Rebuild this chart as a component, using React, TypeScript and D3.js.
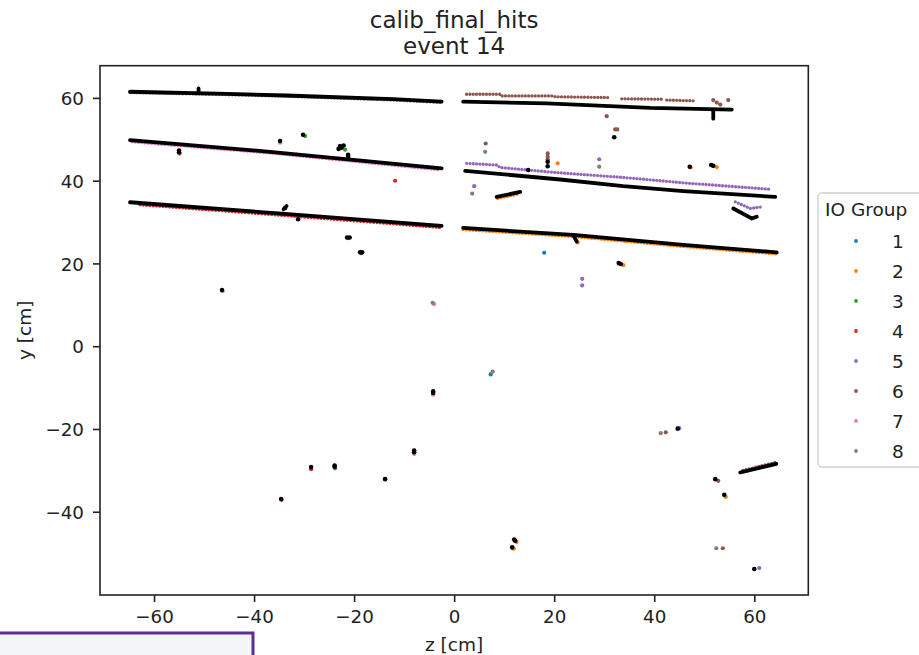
import React from "react";
import * as d3 from "d3";

const WIDTH = 919;
const HEIGHT = 655;

const GROUPS = [1, 2, 3, 4, 5, 6, 7, 8];
const GROUP_COLORS = ["#1f77b4", "#ff7f0e", "#2ca02c", "#d62728", "#9467bd", "#8c564b", "#e377c2", "#7f7f7f"];
const X_TICKS = [-60, -40, -20, 0, 20, 40, 60];
const Y_TICKS = [-40, -20, 0, 20, 40, 60];
const X_DOMAIN: [number, number] = [-70.9, 70.7];
const Y_DOMAIN: [number, number] = [-60.0, 67.9];

const TITLE_LINES = ["calib_final_hits", "event 14"];
const X_LABEL = "z [cm]";
const Y_LABEL = "y [cm]";
const LEGEND_TITLE = "IO Group";

// colored hit tracks: group + vertices [z, y]
const colorTracks: { group: number; pts: [number, number][] }[] = [
  { group: 8, pts: [[-64.9, 61.4], [-45.6, 60.9], [-33.6, 60.5], [-12.3, 59.6], [-2.6, 59.0]] },
  { group: 7, pts: [[-64.5, 49.5], [-36.9, 46.8], [-2.8, 42.7]] },
  { group: 4, pts: [[-62.9, 34.3], [-33.9, 31.7], [-2.8, 28.8]] },
  { group: 6, pts: [[2.4, 61.0], [9.1, 61.0], [9.4, 60.6], [19.7, 60.6], [20.1, 60.4], [31.1, 60.2]] },
  { group: 6, pts: [[33.4, 59.9], [41.7, 59.8]] },
  { group: 6, pts: [[42.4, 59.6], [48.1, 59.4]] },
  { group: 5, pts: [[2.4, 44.3], [8.4, 43.9], [9.1, 43.3], [21.1, 42.0], [33.7, 40.9], [45.7, 39.6], [63.4, 38.0]] },
  { group: 5, pts: [[56.1, 35.0], [59.1, 33.4], [61.4, 33.8]] },
  { group: 2, pts: [[1.7, 28.3], [23.7, 26.6], [45.7, 24.2], [64.4, 22.4]] },
  { group: 2, pts: [[8.6, 35.8], [13.1, 37.0]] },
  { group: 6, pts: [[57.6, -29.9], [64.3, -27.9]] },
];

// isolated colored hits: [z, y, group]
const colorHits: [number, number, number][] = [
  [6.2, 49.1, 6], [6.1, 47.1, 8], [18.6, 46.7, 6], [18.6, 45.9, 6], [18.6, 45.3, 6],
  [20.6, 44.3, 2], [28.9, 45.3, 5], [28.9, 43.5, 8], [30.4, 55.7, 6], [32.1, 52.5, 6],
  [32.5, 52.5, 6], [47.2, 43.3, 2], [52.4, 43.4, 2], [3.9, 38.8, 5], [3.5, 37.0, 8],
  [17.9, 22.7, 1], [33.7, 19.7, 2], [25.5, 16.4, 5], [25.5, 14.8, 5], [24.6, 25.2, 2],
  [51.7, 59.6, 6], [52.4, 59.0, 6], [53.1, 58.5, 6], [54.7, 59.6, 6],
  [7.2, -6.7, 1], [7.6, -6.0, 8], [41.2, -20.9, 8], [42.2, -20.7, 6], [44.9, -19.7, 5],
  [52.7, -32.4, 6], [54.2, -36.3, 2], [52.3, -48.7, 8], [53.6, -48.7, 6], [60.9, -53.5, 5],
  [12.4, -47.2, 2], [11.8, -48.8, 2],
  [-34.9, 49.3, 7], [-29.9, 50.9, 3], [-21.9, 47.6, 3], [-55.0, 46.7, 4], [-11.9, 40.1, 4],
  [-21.3, 26.2, 3], [-18.7, 22.6, 3], [-46.4, 13.4, 7], [-4.1, 10.3, 7], [-4.4, 10.6, 8],
  [-4.3, -11.6, 7], [-34.6, -37.0, 4], [-28.7, -29.6, 4], [-23.9, -29.4, 3], [-8.1, -25.9, 7],
  [-13.9, -32.0, 8],
];

// black reconstructed tracks
const blackTracks: [number, number][][] = [
  [[-64.9, 61.6], [-45.6, 61.1], [-33.6, 60.7], [-12.3, 59.8], [-2.6, 59.2]],
  [[-64.9, 49.9], [-36.9, 47.1], [-2.6, 43.1]],
  [[-64.9, 34.9], [-33.9, 32.1], [-2.6, 29.2]],
  [[1.7, 59.2], [18.4, 58.8], [39.1, 57.7], [55.4, 57.3]],
  [[2.1, 42.5], [21.1, 40.4], [33.7, 38.8], [45.7, 37.6], [64.1, 36.2]],
  [[55.7, 33.4], [59.4, 31.0], [60.4, 31.4]],
  [[1.7, 28.7], [23.7, 27.0], [45.7, 24.6], [64.4, 22.8]],
  [[8.4, 36.2], [13.1, 37.4]],
  [[57.1, -30.4], [64.3, -28.3]],
  [[-51.2, 61.5], [-51.2, 62.4]],
  [[-34.2, 33.2], [-33.6, 34.0]],
  [[23.7, 27.0], [24.4, 25.4]],
  [[51.7, 56.9], [51.7, 55.1]],
];

// black isolated hits: [z, y]
const blackHits: [number, number][] = [
  [31.9, 50.6], [18.6, 44.7], [18.6, 43.6], [47.0, 43.5], [51.7, 43.7], [51.3, 43.9],
  [14.7, 42.7], [33.2, 20.0], [32.8, 20.2],
  [-34.9, 49.7], [-30.3, 51.2], [-22.6, 48.1], [-23.2, 47.8], [-22.2, 48.6], [-22.9, 48.5],
  [-55.1, 47.4], [-21.5, 26.4], [-21.0, 26.4], [-18.9, 22.8], [-18.5, 22.8], [-46.5, 13.7],
  [-4.3, -11.2], [-4.3, -10.8], [-34.7, -36.8], [-28.7, -29.1], [-24.0, -29.0], [-24.0, -28.7],
  [-13.9, -32.0], [-8.1, -25.5], [-8.1, -25.1], [-31.3, 30.8], [-21.3, 45.9], [-21.3, 46.4],
  [52.1, -32.0], [53.9, -35.8], [59.9, -53.7], [12.1, -46.9], [11.9, -46.6], [11.5, -48.5],
  [44.6, -19.8], [-55.1, 47.0], [-33.9, 33.5],
];

const FONT = "DejaVu Sans, sans-serif";

export default function App() {
  const left = 100, right = 808.3, top = 65.7, bottom = 595;
  const x = d3.scaleLinear().domain(X_DOMAIN).range([left, right]);
  const y = d3.scaleLinear().domain(Y_DOMAIN).range([bottom, top]);
  const line = d3.line<[number, number]>().x((d) => x(d[0])).y((d) => y(d[1]));
  const color = (g: number) => GROUP_COLORS[GROUPS.indexOf(g)];
  const cx = (left + right) / 2;

  return (
    <svg width={WIDTH} height={HEIGHT} style={{ position: "absolute", left: 0, top: 0, background: "#fff" }} fontFamily={FONT}>
      <rect x={0} y={0} width={WIDTH} height={HEIGHT} fill="#fff" />
      {/* title */}
      <text x={cx} y={28} textAnchor="middle" fontSize={23} fill="#222">{TITLE_LINES[0]}</text>
      <text x={cx} y={54} textAnchor="middle" fontSize={23} fill="#222">{TITLE_LINES[1]}</text>

      <defs>
        <clipPath id="plotclip">
          <rect x={left} y={top} width={right - left} height={bottom - top} />
        </clipPath>
      </defs>

      <g clipPath="url(#plotclip)">
        {colorTracks.map((t, i) => (
          <path key={"ct" + i} d={line(t.pts) || ""} fill="none" stroke={color(t.group)} strokeWidth={3.3}
            strokeLinecap="round" strokeDasharray="0 3.3" />
        ))}
        {colorHits.map((h, i) => (
          <circle key={"ch" + i} cx={x(h[0])} cy={y(h[1])} r={2.1} fill={color(h[2])} />
        ))}
        {blackTracks.map((t, i) => (
          <path key={"bt" + i} d={line(t) || ""} fill="none" stroke="#000" strokeWidth={3.8} strokeLinecap="round" />
        ))}
        {blackHits.map((h, i) => (
          <circle key={"bh" + i} cx={x(h[0])} cy={y(h[1])} r={2.3} fill="#000" />
        ))}
      </g>

      {/* frame */}
      <rect x={left} y={top} width={right - left} height={bottom - top} fill="none" stroke="#222" strokeWidth={1.6} />

      {/* x ticks */}
      {X_TICKS.map((t) => (
        <g key={"xt" + t}>
          <line x1={x(t)} x2={x(t)} y1={bottom} y2={bottom + 7} stroke="#222" strokeWidth={1.6} />
          <text x={x(t)} y={623} textAnchor="middle" fontSize={18.3} fill="#222">{t < 0 ? "\u2212" + Math.abs(t) : String(t)}</text>
        </g>
      ))}
      {/* y ticks */}
      {Y_TICKS.map((t) => (
        <g key={"yt" + t}>
          <line x1={left - 7} x2={left} y1={y(t)} y2={y(t)} stroke="#222" strokeWidth={1.6} />
          <text x={left - 16} y={y(t)} dy="0.36em" textAnchor="end" fontSize={18.3} fill="#222">{t < 0 ? "\u2212" + Math.abs(t) : String(t)}</text>
        </g>
      ))}

      <text x={cx} y={651} textAnchor="middle" fontSize={18.5} fill="#222">{X_LABEL}</text>
      <text transform={`translate(31, ${(top + bottom) / 2}) rotate(-90)`} textAnchor="middle" fontSize={18.5} fill="#222">{Y_LABEL}</text>

      {/* legend */}
      <rect x={818} y={193} width={120} height={274} rx={4} fill="#fff" stroke="#d0d0d0" strokeWidth={1.4} />
      <text x={825} y={216} fontSize={18.5} fill="#222">{LEGEND_TITLE}</text>
      {GROUPS.map((g, i) => (
        <g key={"lg" + g}>
          <circle cx={856} cy={241 + i * 30} r={1.9} fill={color(g)} />
          <text x={892} y={241 + i * 30} dy="0.36em" fontSize={18.5} fill="#222">{String(g)}</text>
        </g>
      ))}

      {/* overlay box at bottom-left */}
      <rect x={-3} y={633} width={256} height={30} fill="#f4f5f7" stroke="#5b2e91" strokeWidth={3} />
    </svg>
  );
}
